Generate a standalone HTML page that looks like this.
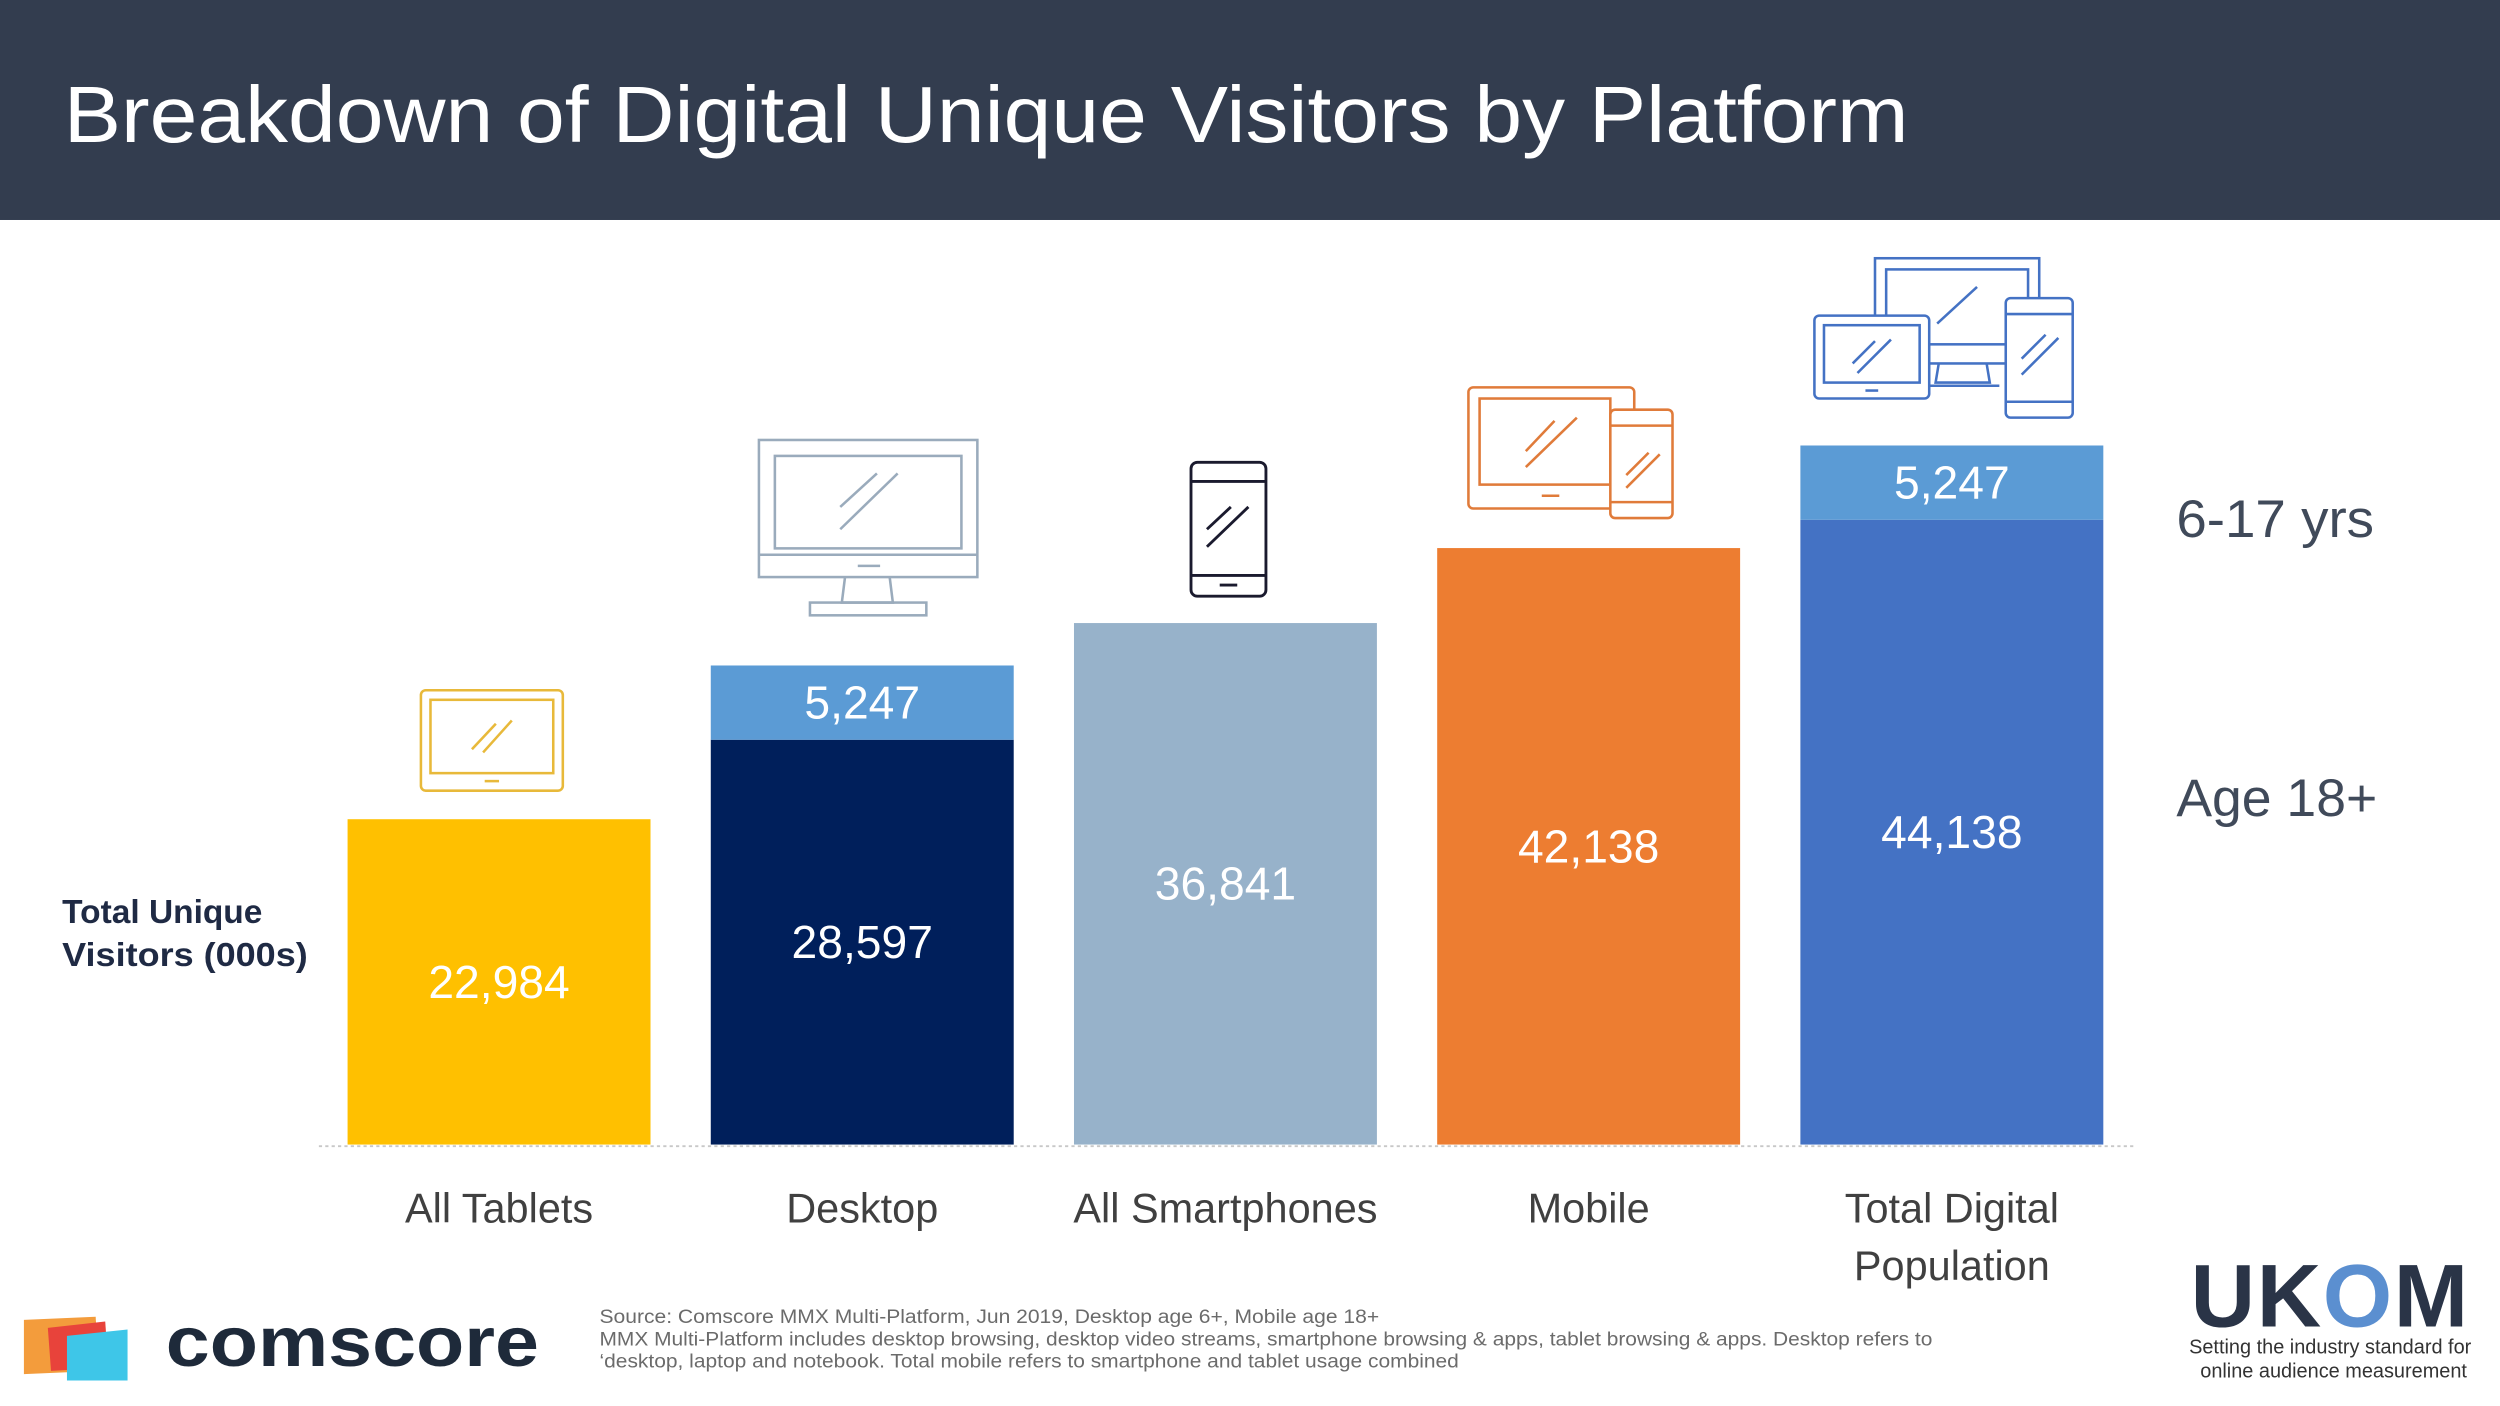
<!DOCTYPE html>
<html><head><meta charset="utf-8"><style>
html,body{margin:0;padding:0;background:#fff;}
svg{display:block;}
text{font-family:"Liberation Sans",sans-serif;}
</style></head><body>
<svg id="chart" width="2500" height="1406" viewBox="0 0 1568 882" preserveAspectRatio="none" xmlns="http://www.w3.org/2000/svg">
<rect x="0" y="0" width="1568" height="138" fill="#333d4f"/>
<text x="40" y="89" font-size="50" fill="#ffffff" textLength="1157" lengthAdjust="spacingAndGlyphs">Breakdown of Digital Unique Visitors by Platform</text>
<text x="39" y="579" font-size="21" font-weight="bold" fill="#1f2a44">Total Unique</text>
<text x="39" y="606" font-size="21" font-weight="bold" fill="#1f2a44" textLength="154" lengthAdjust="spacingAndGlyphs">Visitors (000s)</text>
<text x="1365" y="337" font-size="33" fill="#404a5a" textLength="124" lengthAdjust="spacingAndGlyphs">6-17 yrs</text>
<text x="1365" y="512" font-size="33" fill="#404a5a" textLength="126" lengthAdjust="spacingAndGlyphs">Age 18+</text>
<line x1="200" y1="719" x2="1338" y2="719" stroke="#c8c8c8" stroke-width="1.2" stroke-dasharray="2,2"/>
<g id="bars"></g>
<g fill="none" stroke="#e8b93a" stroke-width="1.6">
<rect x="264" y="433" width="89" height="63" rx="3"/><rect x="270" y="439" width="77" height="46"/>
<line x1="296" y1="470" x2="311" y2="454"/><line x1="303" y1="472" x2="321" y2="452"/><line x1="304" y1="490" x2="313" y2="490"/></g>
<g fill="none" stroke="#9aabbc" stroke-width="1.6">
<rect x="476" y="276" width="137" height="86"/><rect x="486" y="286" width="117" height="58"/>
<line x1="476" y1="348" x2="613" y2="348"/><line x1="527" y1="318" x2="550" y2="297"/><line x1="527" y1="332" x2="563" y2="297"/>
<line x1="538" y1="355" x2="552" y2="355"/><path d="M530 362 L528 378 L560 378 L558 362"/><rect x="508" y="378" width="73" height="8"/></g>
<g fill="none" stroke="#1a1a2e" stroke-width="1.8">
<rect x="747" y="290" width="47" height="84" rx="4"/><line x1="747" y1="302" x2="794" y2="302"/><line x1="747" y1="361" x2="794" y2="361"/>
<line x1="757" y1="332" x2="772" y2="318"/><line x1="757" y1="343" x2="783" y2="318"/><line x1="765" y1="367" x2="776" y2="367"/></g>
<g fill="none" stroke="#e07b3a" stroke-width="1.6">
<rect x="921" y="243" width="104" height="76" rx="3"/><rect x="928" y="250" width="82" height="54"/>
<line x1="957" y1="283" x2="975" y2="264"/><line x1="957" y1="293" x2="989" y2="262"/><line x1="967" y1="311" x2="978" y2="311"/>
<rect x="1010" y="257" width="39" height="68" rx="3" fill="#fff"/><line x1="1010" y1="267" x2="1049" y2="267"/><line x1="1010" y1="315" x2="1049" y2="315"/>
<line x1="1020" y1="298" x2="1034" y2="284"/><line x1="1020" y1="306" x2="1041" y2="285"/></g>
<g fill="none" stroke="#4472c4" stroke-width="1.6">
<rect x="1176" y="162" width="103" height="66"/><rect x="1183" y="169" width="89" height="47"/>
<line x1="1215" y1="203" x2="1240" y2="180"/><path d="M1216 228 L1214 240 L1248 240 L1246 228"/><line x1="1210" y1="242" x2="1254" y2="242"/>
<rect x="1138" y="198" width="72" height="52" rx="3" fill="#fff"/><rect x="1144" y="204" width="60" height="36"/>
<line x1="1162" y1="228" x2="1176" y2="214"/><line x1="1165" y1="234" x2="1186" y2="213"/><line x1="1170" y1="245" x2="1178" y2="245"/>
<rect x="1258" y="187" width="42" height="75" rx="3" fill="#fff"/><line x1="1258" y1="197" x2="1300" y2="197"/><line x1="1258" y1="252" x2="1300" y2="252"/>
<line x1="1268" y1="225" x2="1283" y2="210"/><line x1="1268" y1="235" x2="1291" y2="212"/></g>
<g>
<polygon points="15,828 60,826 62,860 15,862" fill="#f39c3c"/>
<polygon points="30,833 66,829 68,858 32,860" fill="#e8433b"/>
<polygon points="42,838 80,834 80,866 42,866" fill="#3ec6e8"/>
<text x="104" y="857" font-size="44" font-weight="bold" fill="#1e2a3a" textLength="234" lengthAdjust="spacingAndGlyphs">comscore</text>
</g>
<g font-size="12.2" fill="#6b6b6b">
<text x="376" y="830" textLength="489" lengthAdjust="spacingAndGlyphs">Source: Comscore MMX Multi-Platform, Jun 2019,  Desktop age 6+, Mobile age 18+</text>
<text x="376" y="844" textLength="836" lengthAdjust="spacingAndGlyphs">MMX Multi-Platform includes desktop browsing, desktop video streams, smartphone browsing &amp; apps, tablet browsing &amp; apps. Desktop refers to</text>
<text x="376" y="858" textLength="539" lengthAdjust="spacingAndGlyphs">‘desktop, laptop and notebook. Total mobile refers to smartphone and tablet usage combined</text>
</g>
<g>
<text x="1374" y="832" font-size="56" font-weight="bold" fill="#2a3447" textLength="174">UK<tspan fill="#5b8fd0">O</tspan>M</text>
<text x="1373" y="849" font-size="12.5" fill="#333">Setting the industry standard for</text>
<text x="1380" y="864" font-size="12.5" fill="#333">online audience measurement</text>
</g>
</svg>
<script>
const categories = ["All Tablets","Desktop","All Smartphones","Mobile","Total Digital Population"];
const adultValues = [22984, 28597, 36841, 42138, 44138];
const youthValues = [0, 5247, 0, 0, 5247];
const adultLabels = ["22,984","28,597","36,841","42,138","44,138"];
const youthLabels = ["","5,247","","","5,247"];
const adultColors = ["#ffc000","#001f5b","#97b2ca","#ed7d31","#4472c4"];
const youthColor = "#5b9bd5";

const NS = "http://www.w3.org/2000/svg";
const baseY = 718, scale = 0.00888;
const x0 = 218, step = 227.8, barW = 190;
function xPos(i){ return x0 + i*step; }
function yPos(v){ return baseY - v*scale; }
const g = document.getElementById('bars');
function mk(tag, attrs){ const e=document.createElementNS(NS,tag); for(const k in attrs) e.setAttribute(k,attrs[k]); return e; }
categories.forEach((c,i)=>{
  const x = xPos(i), ya = yPos(adultValues[i]);
  const r = mk('rect',{x:x,y:ya,width:barW,height:baseY-ya,fill:adultColors[i]});
  
  
  g.appendChild(r);
  const t = mk('text',{x:x+barW/2,y:(ya+baseY)/2+10,'font-size':29,fill:'#ffffff','text-anchor':'middle'});
  t.textContent = adultLabels[i];
  
  
  g.appendChild(t);
  if(youthValues[i]>0){
    const yy = yPos(adultValues[i]+youthValues[i]);
    const r2 = mk('rect',{x:x,y:yy,width:barW,height:ya-yy,fill:youthColor});
    
    
    g.appendChild(r2);
    const t2 = mk('text',{x:x+barW/2,y:(yy+ya)/2+10,'font-size':29,fill:'#ffffff','text-anchor':'middle'});
    t2.textContent = youthLabels[i];
    
    
    g.appendChild(t2);
  }
  const words = c==="Total Digital Population" ? ["Total Digital","Population"] : [c];
  words.forEach((w,j)=>{
    const l = mk('text',{x:x+barW/2,y:767+j*36,'font-size':26,fill:'#404040','text-anchor':'middle'});
    l.textContent = w;
    
    
    g.appendChild(l);
  });
});
</script>
</body></html>
